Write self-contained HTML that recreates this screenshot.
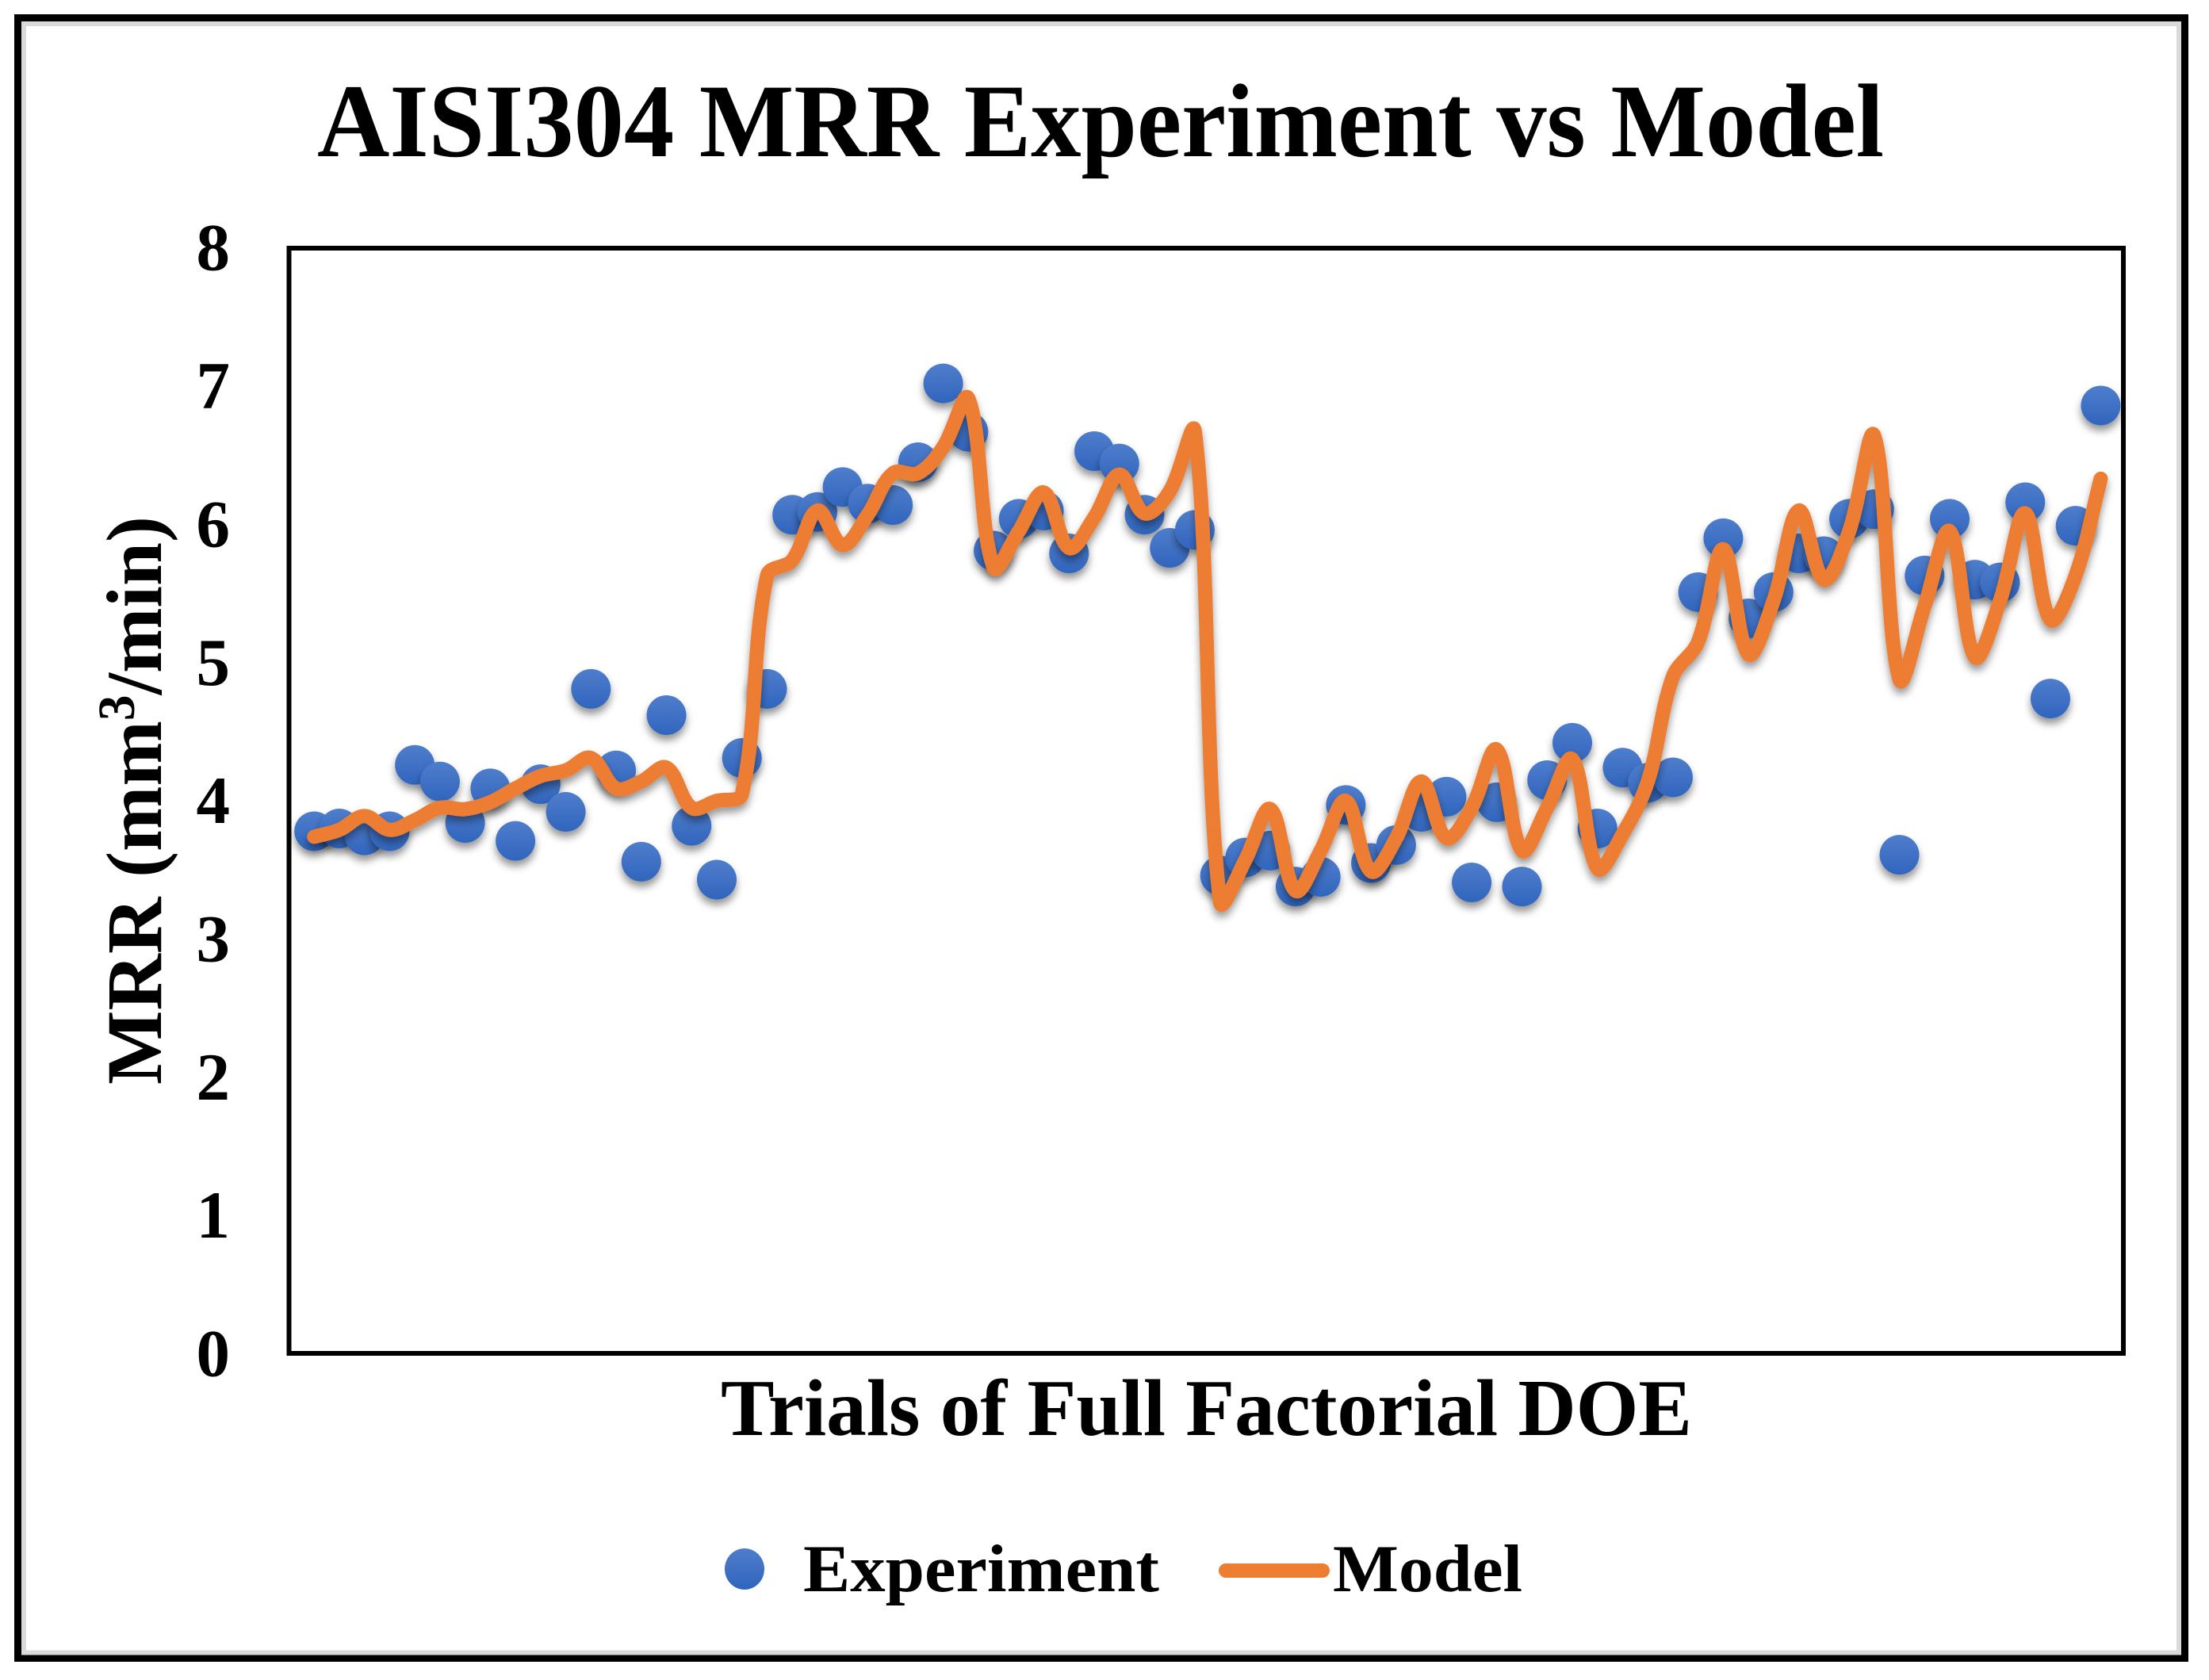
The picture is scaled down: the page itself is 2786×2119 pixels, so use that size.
<!DOCTYPE html>
<html lang="en">
<head>
<meta charset="utf-8">
<title>AISI304 MRR Experiment vs Model</title>
<style>
html,body{margin:0;padding:0;background:#fff;}
svg{display:block;}
text{font-family:"Liberation Serif",serif;font-weight:bold;fill:#000;}
</style>
</head>
<body>
<svg id="chart" width="2786" height="2119" viewBox="0 0 2786 2119" xmlns="http://www.w3.org/2000/svg">
  <defs>
    <linearGradient id="dotFill" x1="0" y1="0" x2="0" y2="1">
      <stop offset="0" stop-color="#4f7dcc"/>
      <stop offset="1" stop-color="#3065bd"/>
    </linearGradient>
    <filter id="softShadow" x="-50%" y="-50%" width="200%" height="200%">
      <feDropShadow dx="0" dy="7" stdDeviation="5" flood-color="#000" flood-opacity="0.42"/>
    </filter>
    <filter id="lineShadow" x="-5%" y="-5%" width="110%" height="110%" filterUnits="objectBoundingBox">
      <feDropShadow dx="0" dy="7" stdDeviation="5" flood-color="#000" flood-opacity="0.4"/>
    </filter>
  </defs>
  <rect x="0" y="0" width="2786" height="2119" fill="#fff"/>
  <rect x="22.5" y="22.5" width="2733" height="2069" fill="none" stroke="#000" stroke-width="9"/>
  <rect x="30" y="30" width="2718" height="2054.5" fill="none" stroke="#d9d9d9" stroke-width="6"/>
  <text x="400" y="197" font-size="132" textLength="1976" lengthAdjust="spacingAndGlyphs">AISI304 MRR Experiment vs Model</text>
  <g id="yTicks"></g>
  <g id="dots"></g>
  <path id="modelLine" fill="none" stroke="#ed7d31" stroke-width="18" stroke-linecap="round" stroke-linejoin="round" filter="url(#lineShadow)"/>
  <rect x="364.5" y="313" width="2313.5" height="1394" fill="none" stroke="#000" stroke-width="6"/>
  <text transform="translate(203,1368) rotate(-90)" font-size="100" textLength="717" lengthAdjust="spacingAndGlyphs">MRR (mm<tspan font-size="66" dy="-34">3</tspan><tspan dy="34">/min)</tspan></text>
  <text x="909" y="1810" font-size="102" textLength="1225" lengthAdjust="spacingAndGlyphs">Trials of Full Factorial DOE</text>
  <g>
    <ellipse cx="939" cy="1979" rx="25" ry="26" fill="url(#dotFill)"/>
    <text x="1013" y="2007" font-size="85" textLength="449" lengthAdjust="spacingAndGlyphs">Experiment</text>
    <line x1="1546" y1="1981" x2="1668" y2="1981" stroke="#ed7d31" stroke-width="18" stroke-linecap="round"/>
    <text x="1681" y="2007" font-size="85" textLength="239" lengthAdjust="spacingAndGlyphs">Model</text>
  </g>
</svg>
<script>
const yTickLabels = [0, 1, 2, 3, 4, 5, 6, 7, 8];
const experimentValues = [
  3.78, 3.80, 3.75, 3.78, 4.26, 4.14, 3.84, 4.09, 3.71, 4.12, 3.92, 4.81,
  4.22, 3.56, 4.62, 3.82, 3.43, 4.31, 4.81, 6.07, 6.09, 6.27, 6.15, 6.14,
  6.45, 7.02, 6.67, 5.81, 6.04, 6.10, 5.79, 6.53, 6.44, 6.07, 5.83, 5.96,
  3.46, 3.59, 3.64, 3.38, 3.45, 3.97, 3.55, 3.68, 3.92, 4.03, 3.41, 3.99,
  3.38, 4.15, 4.42, 3.80, 4.24, 4.13, 4.17, 5.51, 5.90, 5.32, 5.51, 5.79,
  5.77, 6.04, 6.11, 3.61, 5.63, 6.04, 5.60, 5.58, 6.16, 4.74, 5.99, 6.86
];
const modelValues = [
  3.74, 3.79, 3.89, 3.79, 3.86, 3.95, 3.94, 3.99, 4.09, 4.18, 4.22, 4.31,
  4.09, 4.14, 4.24, 3.95, 4.00, 4.05, 5.63, 5.74, 6.10, 5.85, 6.07, 6.37,
  6.37, 6.56, 6.91, 5.69, 5.95, 6.23, 5.83, 6.05, 6.36, 6.08, 6.24, 6.67,
  3.27, 3.57, 3.94, 3.35, 3.64, 4.00, 3.49, 3.73, 4.14, 3.73, 3.95, 4.37,
  3.64, 3.95, 4.30, 3.51, 3.76, 4.14, 4.90, 5.15, 5.82, 5.06, 5.45, 6.10,
  5.60, 5.95, 6.64, 4.88, 5.41, 5.95, 5.04, 5.45, 6.08, 5.31, 5.63, 6.33
];

const SVG_NS = 'http://www.w3.org/2000/svg';
function xScale(trial) { return 364.5 + trial * (2313.5 / 72.9); }
function yScale(value) { return 1707.5 - value * 174.35; }

const tickGroup = document.getElementById('yTicks');
yTickLabels.forEach(function (tick) {
  const label = document.createElementNS(SVG_NS, 'text');
  
  
  label.setAttribute('x', 290);
  label.setAttribute('y', yScale(tick) + 28);
  label.setAttribute('font-size', 85);
  label.setAttribute('text-anchor', 'end');
  label.textContent = String(tick);
  tickGroup.appendChild(label);
});

const dotGroup = document.getElementById('dots');
experimentValues.forEach(function (value, i) {
  const dot = document.createElementNS(SVG_NS, 'circle');
  
  
  dot.setAttribute('cx', xScale(i + 1));
  dot.setAttribute('cy', yScale(value));
  dot.setAttribute('r', 25);
  dot.setAttribute('fill', 'url(#dotFill)');
  dot.setAttribute('filter', 'url(#softShadow)');
  dotGroup.appendChild(dot);
});

const pts = modelValues.map(function (value, i) {
  return [xScale(i + 1), yScale(value)];
});
function dist(a, b) { return Math.hypot(a[0] - b[0], a[1] - b[1]); }
/* chord-weighted tangents: short neighbouring segments get short handles,
   so the large steps do not overshoot */
function handle(prev, cur, next, seg) {
  const total = dist(prev, cur) + dist(cur, next) || 1;
  const k = 0.36 * seg / total;
  return [(next[0] - prev[0]) * k, (next[1] - prev[1]) * k];
}
let d = 'M' + pts[0][0] + ' ' + pts[0][1];
for (let i = 0; i < pts.length - 1; i++) {
  const p0 = pts[Math.max(i - 1, 0)];
  const p1 = pts[i];
  const p2 = pts[i + 1];
  const p3 = pts[Math.min(i + 2, pts.length - 1)];
  const seg = dist(p1, p2);
  const h1 = handle(p0, p1, p2, seg);
  const h2 = handle(p1, p2, p3, seg);
  d += ' C' + (p1[0] + h1[0]) + ' ' + (p1[1] + h1[1]) + ' ' + (p2[0] - h2[0]) + ' ' + (p2[1] - h2[1]) + ' ' + p2[0] + ' ' + p2[1];
}
document.getElementById('modelLine').setAttribute('d', d);
</script>
</body>
</html>
